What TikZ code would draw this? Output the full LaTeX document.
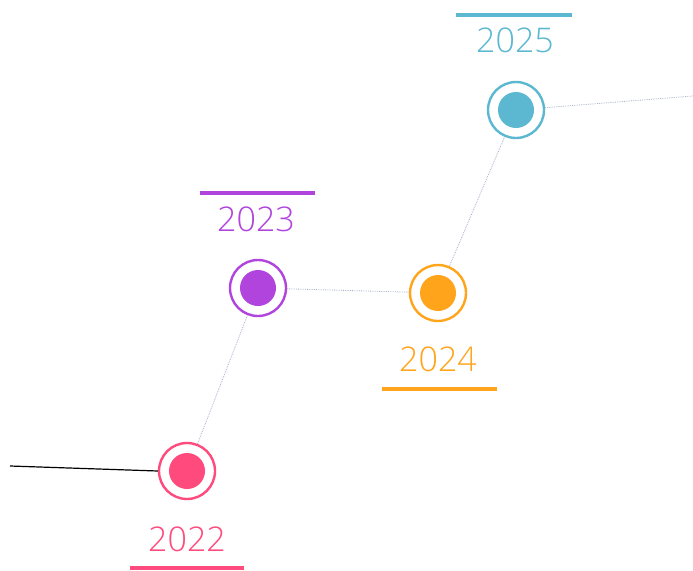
\documentclass[tikz,border=0pt]{standalone}
\usepackage{fontspec}
\setmainfont{Open Sans}[UprightFont={* Light}]
\definecolor{cpink}{HTML}{FF4A7D}
\definecolor{cpurple}{HTML}{B044DC}
\definecolor{corange}{HTML}{FFA41B}
\definecolor{cblue}{HTML}{5BB8D0}
\definecolor{clink}{HTML}{A8B0C8}
\begin{document}
\begin{tikzpicture}[x=1pt,y=-1pt,
  ring/.style={circle,draw=#1,line width=2.4pt,fill=white,minimum size=56pt,inner sep=0pt},
  dotc/.style={circle,fill=#1,minimum size=36pt,inner sep=0pt},
  year/.style={text=#1,font=\fontsize{34}{34}\selectfont,inner sep=0pt,anchor=center},
  bar/.style={draw=#1,line width=4.5pt},
  link/.style={draw=clink,line width=0.8pt,densely dotted}]
\useasboundingbox (0,0) rectangle (693,570);
\coordinate (lstart) at (10,466);
\coordinate (rend) at (693,96);
% nodes
\node[ring=cpink] (r22) at (187,471) {};
\node[ring=cpurple] (r23) at (258,288) {};
\node[ring=corange] (r24) at (438,293) {};
\node[ring=cblue] (r25) at (516,110) {};
% links
\draw[link] (r22) -- (r23);
\draw[link] (r23) -- (r24);
\draw[link] (r24) -- (r25);
\draw[link] (r25) -- (rend);
\draw[black,line width=1.2pt] (lstart) -- (r22.west);
% inner dots
\node[dotc=cpink] at (r22) {};
\node[dotc=cpurple] at (r23) {};
\node[dotc=corange] at (r24) {};
\node[dotc=cblue] at (r25) {};
% labels
\node[year=cpink] (y22) at (187,539) {2022};
\node[year=cpurple] (y23) at (256,219) {2023};
\node[year=corange] (y24) at (438,359) {2024};
\node[year=cblue] (y25) at (515,40) {2025};
% bars
\draw[bar=cpink] (130,568) -- (244,568);
\draw[bar=cpurple] (200,193) -- (315,193);
\draw[bar=corange] (382,389) -- (497,389);
\draw[bar=cblue] (456,15) -- (572,15);
\end{tikzpicture}
\end{document}
